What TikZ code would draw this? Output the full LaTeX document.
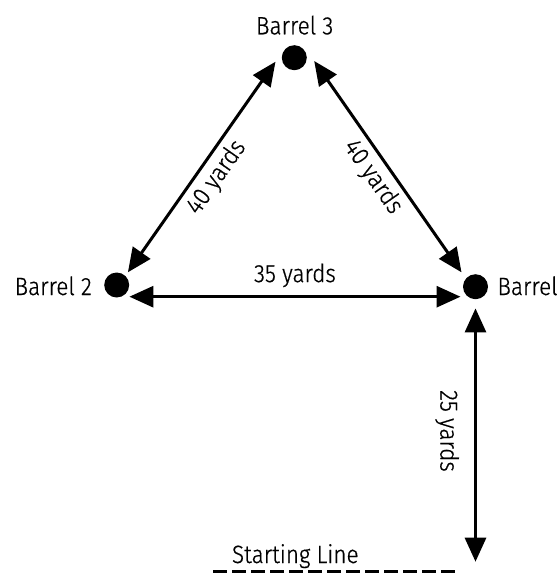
\documentclass[tikz,border=0pt]{standalone}
\usepackage{fontspec}
\setmainfont{Fira Sans Light}[FakeStretch=0.9,FakeBold=0.6]
\usetikzlibrary{arrows.meta}
\begin{document}
\begin{tikzpicture}[x=1pt,y=-1pt,
  dot/.style={circle,fill=black,inner sep=0pt,minimum size=25pt},
  lbl/.style={font=\fontsize{25}{27}\selectfont,inner sep=0pt},
  dist/.style={line width=3pt,{Triangle[length=24pt,width=21pt]}-{Triangle[length=24pt,width=21pt]}},
  startline/.style={line width=2.4pt,dash pattern=on 14pt off 5pt}]
\useasboundingbox (0,0) rectangle (559,574);
\node[dot] (b3) at (294.3,57.7) {};
\node[dot] (b2) at (116.7,285) {};
\node[dot] (b1) at (475.5,286.7) {};
\coordinate (s) at (475.5,561.7);
\coordinate (sl1) at (213,571.5);
\coordinate (sl2) at (460,571.5);
\node[lbl,anchor=base] (t3) at (294.7,34.3) {Barrel 3};
\node[lbl,anchor=base east] (t2) at (92,295) {Barrel 2};
\node[lbl,anchor=base west] (t1) at (497.3,295) {Barrel};
\node[lbl,anchor=base] (ts) at (295.3,563) {Starting Line};
\draw[dist] ([xshift=-1.5pt,yshift=12.7pt]b2.east) -- node[lbl,sloped,below=5pt] (d23) {40 yards} ([xshift=-6.1pt,yshift=-4pt]b3.west);
\draw[dist] ([xshift=7.2pt,yshift=-3.3pt]b3.east) -- node[lbl,sloped,below=5pt] (d31) {40 yards} ([xshift=-1.3pt,yshift=14.4pt]b1.west);
\draw[dist] ([yshift=-11.7pt]b2.east) -- node[lbl,above=8pt] (d21) {35 yards} ([xshift=-2.3pt,yshift=-10pt]b1.west);
\draw[dist] ([yshift=-9pt]b1.south) -- node[lbl,sloped,below=15pt,pos=0.484] (d1s) {25 yards} (s);
\draw[startline] (sl1) -- (sl2);
\end{tikzpicture}
\end{document}
